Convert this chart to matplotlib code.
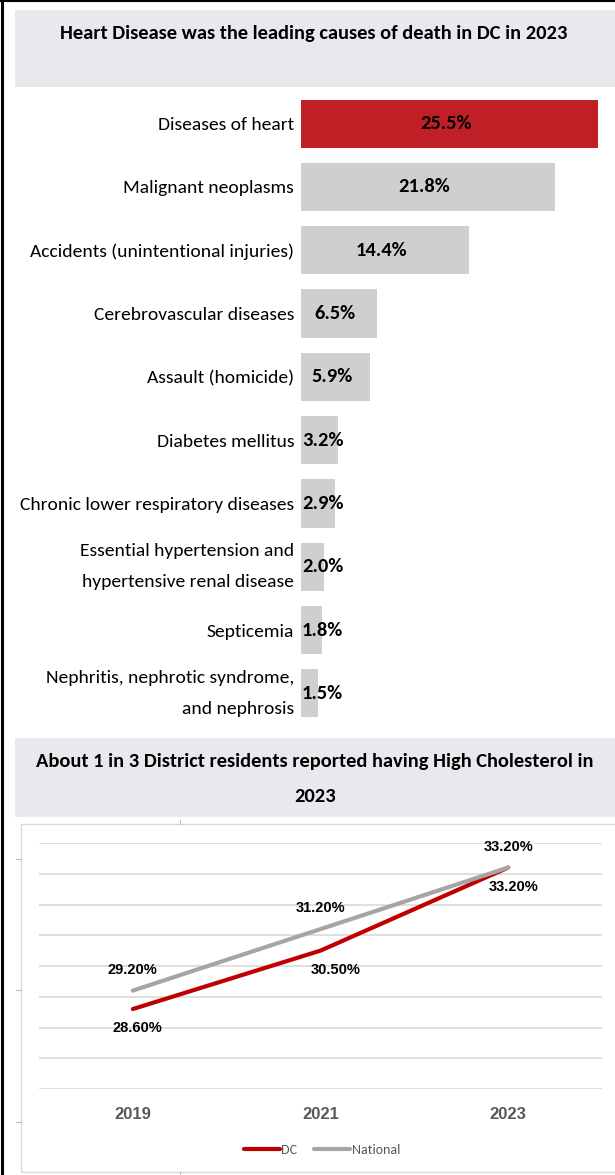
import matplotlib
matplotlib.use("Agg")
import matplotlib.pyplot as plt
from matplotlib.patches import Rectangle
from matplotlib.lines import Line2D

# causes of death, DC 2023
causes = [
    "Diseases of heart",
    "Malignant neoplasms",
    "Accidents (unintentional injuries)",
    "Cerebrovascular diseases",
    "Assault (homicide)",
    "Diabetes mellitus",
    "Chronic lower respiratory diseases",
    "Essential hypertension and\nhypertensive renal disease",
    "Septicemia",
    "Nephritis, nephrotic syndrome,\nand nephrosis",
]
death_pct = [25.5, 21.8, 14.4, 6.5, 5.9, 3.2, 2.9, 2.0, 1.8, 1.5]

# high cholesterol
years = ["2019", "2021", "2023"]
dc_chol = [28.6, 30.5, 33.2]
nat_chol = [29.2, 31.2, 33.2]

CAL = ["Carlito", "DejaVu Sans"]
ARIAL = ["Liberation Sans", "DejaVu Sans"]

W, H = 615, 1175
fig = plt.figure(figsize=(W / 100, H / 100), dpi=100)


def box(x0, y0, x1, y1):
    return [x0 / W, 1 - y1 / H, (x1 - x0) / W, (y1 - y0) / H]


def fx(x):
    return x / W


def fy(y):
    return 1 - y / H


TITLE_BG = "#E8E9ED"

# outer frame (left and top only)
fig.add_artist(Line2D([fx(1.5), fx(1.5)], [0, 1], color="black", lw=2.2))
fig.add_artist(Line2D([0, 1], [fy(1), fy(1)], color="black", lw=1.5))

# title 1
fig.add_artist(Rectangle((fx(15), fy(87)), fx(615) - fx(15), fy(10) - fy(87),
                         transform=fig.transFigure, facecolor=TITLE_BG, edgecolor="none",
                         zorder=-5))
fig.text(fx(314), fy(33), "Heart Disease was the leading causes of death in DC in 2023",
         ha="center", va="center", fontsize=14.8, fontweight="bold", family=CAL)

# bar chart
ax1 = fig.add_axes(box(301, 92, 598, 725))
ypos = list(range(len(causes)))
colors = ["#BE2026"] + ["#D0CECE"] * (len(causes) - 1)
ax1.barh(ypos, death_pct, height=0.76, color=colors)
ax1.set_xlim(0, max(death_pct))
ax1.set_ylim(len(causes) - 0.5, -0.5)
ax1.set_yticks(ypos)
ax1.set_yticklabels(causes, fontsize=14, family=CAL, linespacing=2.15)
for lbl in ax1.get_yticklabels():
    if "\n" in lbl.get_text():
        lbl.set_va("center")
ax1.tick_params(axis="y", length=0, pad=5)
ax1.set_xticks([])
for s in ax1.spines.values():
    s.set_visible(False)
ax1.patch.set_alpha(0)

renderer = fig.canvas.get_renderer()
ax_left = ax1.get_window_extent(renderer).x0
for y, v in zip(ypos, death_pct):
    t = ax1.text(v / 2 - 0.3, y, f"{v:.1f}%", ha="center", va="center", fontsize=14.8,
                 fontweight="bold", family=CAL)
    if t.get_window_extent(renderer).x0 < ax_left + 1:
        t.set_x(0.08)
        t.set_ha("left")

# title 2
fig.add_artist(Rectangle((fx(15), fy(817)), fx(615) - fx(15), fy(738) - fy(817),
                         transform=fig.transFigure, facecolor=TITLE_BG, edgecolor="none",
                         zorder=-5))
fig.text(fx(315), fy(761), "About 1 in 3 District residents reported having High Cholesterol in",
         ha="center", va="center", fontsize=14.8, fontweight="bold", family=CAL)
fig.text(fx(315), fy(796), "2023", ha="center", va="center", fontsize=14.8,
         fontweight="bold", family=CAL)

# line chart frame
fig.add_artist(Rectangle((fx(21), fy(1172)), fx(630) - fx(21), fy(824) - fy(1172),
                         transform=fig.transFigure, facecolor="white", edgecolor="#D9D9D9",
                         lw=1, zorder=-5))
for yy in [859, 990, 1122]:
    fig.add_artist(Line2D([fx(16), fx(21)], [fy(yy), fy(yy)], color="#BFBFBF", lw=0.8))
for y0, y1 in [(820, 824), (1172, 1175)]:
    fig.add_artist(Line2D([fx(180), fx(180)], [fy(y0), fy(y1)], color="#BFBFBF", lw=0.8))

ax2 = fig.add_axes(box(39, 843, 602, 1089))
ax2.patch.set_alpha(0)
xs = range(len(years))
ax2.plot(xs, dc_chol, color="#C00000", lw=3, solid_capstyle="round", label="DC")
ax2.plot(xs, nat_chol, color="#A5A5A5", lw=3, solid_capstyle="round", label="National")
ax2.set_xlim(-0.5, len(years) - 0.5)
ax2.set_ylim(26, 34)
ax2.set_yticks(range(26, 35))
ax2.yaxis.grid(True, color="#D9D9D9", lw=1.2)
ax2.set_axisbelow(True)
ax2.tick_params(axis="y", length=0, labelleft=False)
ax2.set_xticks(list(xs))
ax2.set_xticklabels(years, fontsize=12, fontweight="bold", color="#595959", family=ARIAL)
ax2.tick_params(axis="x", length=0, pad=13)
for s in ax2.spines.values():
    s.set_visible(False)

dc_dx = [3, 11, 4]
for x, v in zip(xs, nat_chol):
    ax2.annotate(f"{v:.2f}%", (x, v), xytext=(0, 15), textcoords="offset points",
                 ha="center", va="center", fontsize=10.5, fontweight="bold", family=ARIAL)
for x, v, dx in zip(xs, dc_chol, dc_dx):
    ax2.annotate(f"{v:.2f}%", (x, v), xytext=(dx, -14), textcoords="offset points",
                 ha="center", va="center", fontsize=10.5, fontweight="bold", family=ARIAL)

leg = ax2.legend(loc="center", bbox_to_anchor=(fx(322), fy(1150)),
                 bbox_transform=fig.transFigure, ncol=2, frameon=False,
                 handlelength=2.6, handletextpad=0.1, columnspacing=1.2,
                 prop={"family": CAL, "size": 10})
for t in leg.get_texts():
    t.set_color("#595959")

fig.savefig("out.png", dpi=100)
